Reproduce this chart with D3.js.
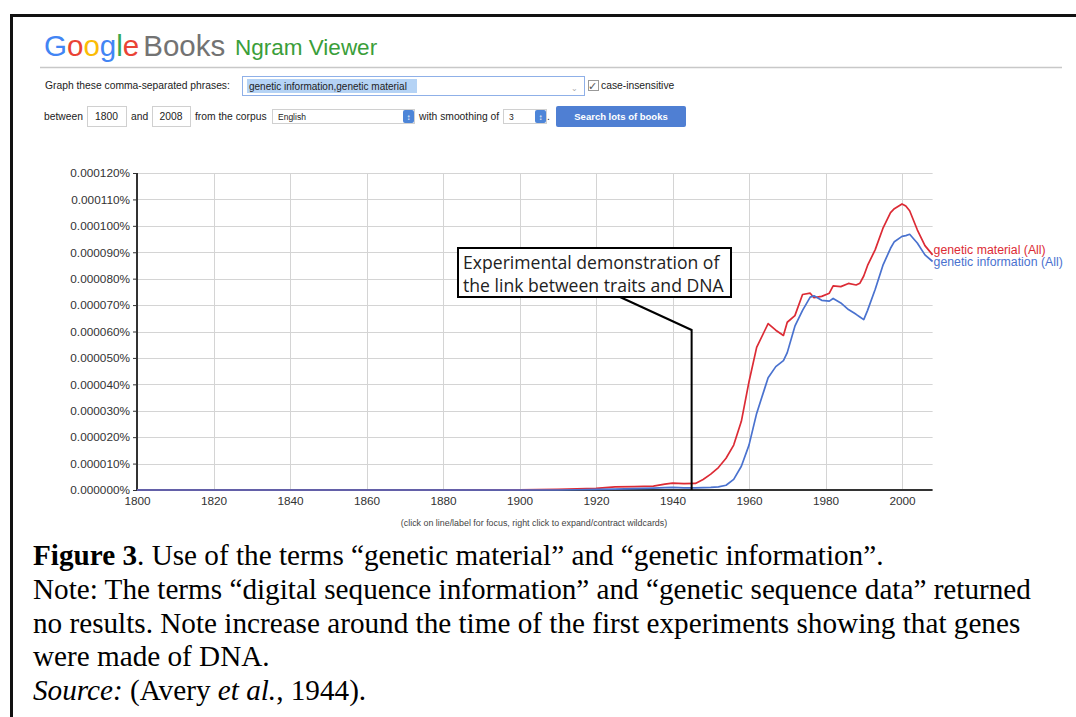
<!DOCTYPE html>
<html>
<head>
<meta charset="utf-8">
<script src="https://cdn.jsdelivr.net/npm/d3@7"></script>
<style>
  body { margin: 0; background: #fff; }
  svg { display: block; }
</style>
</head>
<body>
<div id="container"></div>
<script>
/* DATA (values in millionths of a percent) */
const years = [1800, 1850, 1880, 1900, 1910, 1915, 1920, 1925, 1930, 1935, 1938, 1940, 1943, 1946, 1948,
  1950, 1952, 1954, 1956, 1958, 1960, 1962, 1964, 1965, 1967, 1969, 1970, 1972, 1974, 1976, 1977, 1979,
  1981, 1982, 1984, 1986, 1988, 1989, 1990, 1991, 1993, 1995, 1997, 1998, 2000, 2001, 2002, 2004, 2006, 2008];
const materialValues = [0, 0, 0, 0.1, 0.2, 0.4, 0.6, 1.2, 1.3, 1.5, 2.2, 2.6, 2.4, 2.5, 4,
  6, 8.5, 12, 17, 26, 41, 54, 60, 63, 60.5, 58.5, 63.5, 66, 74, 74.5, 72.8, 73.3,
  74.5, 77.3, 77, 78.2, 77.6, 78.3, 81, 85, 91, 99, 105, 106.5, 108.3, 107.5, 105.7, 98.5, 92.5, 89];
const informationValues = [0, 0, 0, 0, 0, 0.1, 0.2, 0.3, 0.5, 0.7, 0.9, 1, 0.8, 0.8, 0.9,
  1, 1.2, 1.8, 4, 9, 17, 29, 38, 42.5, 46.7, 49, 52, 62, 68, 73, 73.5, 71.8,
  71.5, 72.5, 70.8, 68.3, 66.5, 65.5, 64.5, 68, 76, 85, 91.5, 94, 96, 96.3, 96.8, 93.5, 89, 86.5];
const seriesNames = ["genetic material (All)", "genetic information (All)"];
const yTickValues = [0, 10, 20, 30, 40, 50, 60, 70, 80, 90, 100, 110, 120];
const xTickValues = [1800, 1820, 1840, 1860, 1880, 1900, 1920, 1940, 1960, 1980, 2000];
const annotationYear = 1945;
const annotationLines = ["Experimental demonstration of", "the link between traits and DNA"];
const captionLines = [
  [{ t: "Figure 3", b: true }, { t: ". Use of the terms \u201cgenetic material\u201d and \u201cgenetic information\u201d." }],
  [{ t: "Note: The terms \u201cdigital sequence information\u201d and \u201cgenetic sequence data\u201d returned" }],
  [{ t: "no results. Note increase around the time of the first experiments showing that genes" }],
  [{ t: "were made of DNA." }],
  [{ t: "Source:", i: true }, { t: " (Avery " }, { t: "et al.", i: true }, { t: ", 1944)." }]
];

/* CONSTANTS */
const width = 1076, height = 717;
const plot = { left: 137, right: 932.6, top: 173, bottom: 490 };
const red = "#dc2b35", blue = "#4a72cf";
const uiFont = "'Liberation Sans', Arial, sans-serif";

const svg = d3.select("#container").append("svg")
  .attr("width", width)
  .attr("height", height);

// page frame
svg.append("rect")
  .attr("x", 11.5).attr("y", 15.5)
  .attr("width", 1100).attr("height", 800)
  .attr("fill", "none").attr("stroke", "#111").attr("stroke-width", 3);

/* HEADER */
const logo = svg.append("text")
  .attr("x", 44).attr("y", 56)
  .attr("font-family", uiFont).attr("font-size", 29.5);
const logoColors = ["#4285f4", "#ea4335", "#fbbc05", "#4285f4", "#34a853", "#ea4335"];
"Google".split("").forEach((c, i) => logo.append("tspan").attr("fill", logoColors[i]).text(c));
logo.append("tspan").attr("fill", "#737373").attr("dx", 4).text("Books");
svg.append("text")
  .attr("x", 235).attr("y", 55)
  .attr("font-family", uiFont).attr("font-size", 22.5)
  .attr("fill", "#3a9e3a").text("Ngram Viewer");

svg.append("line")
  .attr("x1", 40).attr("x2", 1062).attr("y1", 67.5).attr("y2", 67.5)
  .attr("stroke", "#c8c8c8").attr("stroke-width", 1.5);

const ui = svg.append("g").attr("font-family", uiFont).attr("font-size", 10.3).attr("fill", "#222");
ui.append("text").attr("x", 45).attr("y", 89).text("Graph these comma-separated phrases:");
ui.append("rect").attr("x", 242.5).attr("y", 76.5).attr("width", 342).attr("height", 19)
  .attr("fill", "#fff").attr("stroke", "#8fb0e8");
ui.append("rect").attr("x", 247).attr("y", 79).attr("width", 170).attr("height", 14).attr("fill", "#b5d3f5");
ui.append("text").attr("x", 249).attr("y", 90).attr("font-size", 10).text("genetic information,genetic material");
ui.append("text").attr("x", 571).attr("y", 91).attr("fill", "#aaa").attr("font-size", 8).text("\u2304");
ui.append("rect").attr("x", 588.5).attr("y", 80.5).attr("width", 10).attr("height", 10)
  .attr("fill", "#fff").attr("stroke", "#999");
ui.append("text").attr("x", 588).attr("y", 90).attr("font-size", 11).attr("fill", "#555").text("\u2713");
ui.append("text").attr("x", 601).attr("y", 89).text("case-insensitive");

ui.append("text").attr("x", 44).attr("y", 120).text("between");
const box = (x, w, label) => {
  ui.append("rect").attr("x", x + 0.5).attr("y", 106.5).attr("width", w).attr("height", 20)
    .attr("fill", "#fff").attr("stroke", "#d0d0d0");
  ui.append("text").attr("x", x + w / 2).attr("y", 120).attr("text-anchor", "middle").text(label);
};
box(87, 39, "1800");
ui.append("text").attr("x", 131).attr("y", 120).text("and");
box(152, 38, "2008");
ui.append("text").attr("x", 195).attr("y", 120).text("from the corpus");
const select = (x, w, label) => {
  ui.append("rect").attr("x", x + 0.5).attr("y", 109.5).attr("width", w).attr("height", 14)
    .attr("fill", "#fff").attr("stroke", "#d0d0d0");
  ui.append("rect").attr("x", x + w - 11).attr("y", 110).attr("width", 11).attr("height", 13)
    .attr("rx", 2).attr("fill", "#4d85d8");
  ui.append("text").attr("x", x + w - 5.5).attr("y", 120).attr("text-anchor", "middle")
    .attr("font-size", 8).attr("fill", "#fff").text("\u2195");
  ui.append("text").attr("x", x + 6).attr("y", 120).attr("font-size", 8.5).text(label);
};
select(272, 142, "English");
ui.append("text").attr("x", 419).attr("y", 120).text("with smoothing of");
select(503, 43, "3");
ui.append("text").attr("x", 547).attr("y", 120).text(".");
ui.append("rect").attr("x", 556).attr("y", 106).attr("width", 130).attr("height", 21)
  .attr("rx", 2).attr("fill", "#4f7fd3");
ui.append("text").attr("x", 621).attr("y", 120).attr("text-anchor", "middle")
  .attr("fill", "#fff").attr("font-weight", "bold").attr("font-size", 9.5).text("Search lots of books");

/* SCALES */
const xScale = d3.scaleLinear().domain([1800, 2008]).range([plot.left, plot.right]);
const yScale = d3.scaleLinear().domain([0, 120]).range([plot.bottom, plot.top]);

/* GRID */
const grid = svg.append("g").attr("stroke", "#d4d4d4").attr("stroke-width", 1);
grid.selectAll(".h").data(yTickValues.slice(1)).join("line")
  .attr("x1", plot.left).attr("x2", plot.right)
  .attr("y1", d => Math.round(yScale(d)) + 0.5).attr("y2", d => Math.round(yScale(d)) + 0.5);
grid.selectAll(".v").data(xTickValues.slice(1)).join("line")
  .attr("x1", d => Math.round(xScale(d)) + 0.5).attr("x2", d => Math.round(xScale(d)) + 0.5)
  .attr("y1", plot.top).attr("y2", plot.bottom);

/* AXES */
const yAxis = d3.axisLeft(yScale).tickValues(yTickValues).tickSize(4).tickPadding(3)
  .tickFormat(d => (d / 1e6).toFixed(6) + "%");
const gy = svg.append("g").attr("transform", `translate(${plot.left},0)`).call(yAxis);
const xAxis = d3.axisBottom(xScale).tickValues(xTickValues).tickSize(0).tickPadding(7)
  .tickFormat(d3.format("d"));
const gx = svg.append("g").attr("transform", `translate(0,${plot.bottom})`).call(xAxis);
[gx, gy].forEach(g => {
  g.selectAll("text").attr("font-family", uiFont).attr("font-size", 11.8).attr("fill", "#333");
  g.select(".domain").attr("stroke", "#333").attr("stroke-width", 2);
  g.selectAll(".tick line").attr("stroke", "#333");
});
gx.select(".domain").attr("d", `M${plot.left},0H${plot.right}`);
gy.select(".domain").attr("d", `M0,${plot.top}V${plot.bottom}`);

svg.append("text")
  .attr("x", 534).attr("y", 526).attr("text-anchor", "middle")
  .attr("font-family", uiFont).attr("font-size", 8.9).attr("fill", "#444")
  .text("(click on line/label for focus, right click to expand/contract wildcards)");

/* LINES */
const series = [
  { name: seriesNames[0], values: materialValues, color: red },
  { name: seriesNames[1], values: informationValues, color: blue }
];
const line = d3.line().x(d => xScale(d[0])).y(d => yScale(d[1]));
svg.selectAll(".series").data(series).join("path")
  .attr("d", s => line(years.map((y, i) => [y, s.values[i]])))
  .attr("fill", "none").attr("stroke", s => s.color).attr("stroke-width", 1.7)
  .attr("stroke-linejoin", "round");

svg.selectAll(".label").data(series).join("text")
  .attr("x", plot.right + 1)
  .attr("y", (s, i) => i === 0 ? 254 : 266)
  .attr("font-family", uiFont).attr("font-size", 12.3)
  .attr("fill", s => s.color).text(s => s.name);

/* ANNOTATION */
const ax = xScale(annotationYear);
svg.append("path")
  .attr("d", `M620,297L${ax},330V${plot.bottom}`)
  .attr("fill", "none").attr("stroke", "#000").attr("stroke-width", 2);
svg.append("rect")
  .attr("x", 458).attr("y", 248).attr("width", 273).attr("height", 49)
  .attr("fill", "#fff").attr("stroke", "#000").attr("stroke-width", 2);
svg.selectAll(".ann").data(annotationLines).join("text")
  .attr("x", 463).attr("y", (d, i) => 269 + i * 22.5)
  .attr("font-family", "'Open Sans', sans-serif").attr("font-size", 17.6).attr("fill", "#222")
  .text(d => d);

/* CAPTION */
const cap = svg.append("g")
  .attr("font-family", "'Liberation Serif', 'Times New Roman', serif")
  .attr("font-size", 29.2).attr("fill", "#000");
captionLines.forEach((parts, i) => {
  const t = cap.append("text").attr("x", 33).attr("y", 565 + i * 33.8);
  parts.forEach(p => t.append("tspan")
    .attr("font-weight", p.b ? "bold" : null)
    .attr("font-style", p.i ? "italic" : null)
    .text(p.t));
});
</script>
</body>
</html>
